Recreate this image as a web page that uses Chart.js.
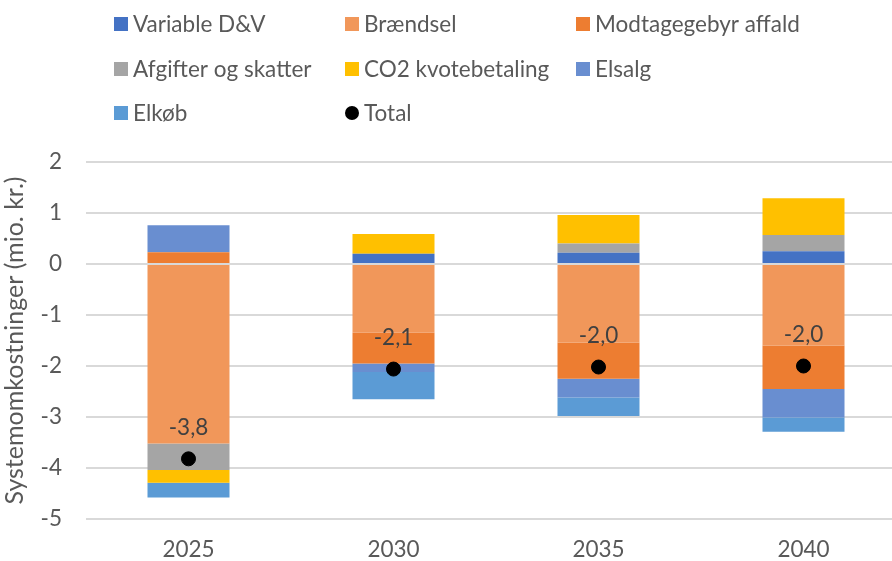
<!DOCTYPE html>
<html>
<head>
<meta charset="utf-8">
<script src="https://cdn.jsdelivr.net/npm/chart.js@4/dist/chart.umd.min.js"></script>
<style>
  html, body { margin: 0; padding: 0; background: #fff; overflow: hidden; }
  #chart { display: block; }
</style>
</head>
<body>
<canvas id="chart" width="914" height="561"></canvas>
<script>
const years = ['2025', '2030', '2035', '2040'];

const variableDV = [0, 0.20, 0.22, 0.25];
const braendsel = [-3.52, -1.35, -1.54, -1.60];
const modtagegebyr = [0.23, -0.60, -0.71, -0.85];
const afgifter = [-0.52, 0, 0.18, 0.32];
const co2 = [-0.25, 0.39, 0.56, 0.72];
const elsalg = [0.53, -0.17, -0.37, -0.56];
const elkob = [-0.29, -0.53, -0.36, -0.28];
const total = [-3.82, -2.06, -2.02, -2.00];

const yTicks = [2, 1, 0, -1, -2, -3, -4, -5];

const FONT = 'Lato, "Open Sans", sans-serif';
const TEXT = '#595959';
const SIZE = 22.5;

// legend laid out like the Excel grid (3 columns)
const legendPlugin = {
  id: 'gridLegend',
  afterDraw(chart) {
    const ctx = chart.ctx;
    const cols = [114, 345, 576];
    const rows = [24, 69, 113];
    ctx.save();
    ctx.font = SIZE + 'px ' + FONT;
    ctx.textBaseline = 'middle';
    ctx.textAlign = 'left';
    chart.data.datasets.forEach((ds, i) => {
      const x = cols[i % 3];
      const y = rows[Math.floor(i / 3)];
      ctx.fillStyle = ds.legendColor || ds.backgroundColor;
      if (ds.type === 'line') {
        ctx.beginPath();
        ctx.arc(x + 7, y, 7, 0, Math.PI * 2);
        ctx.fill();
      } else {
        ctx.fillRect(x, y - 7, 14, 14);
      }
      ctx.fillStyle = TEXT;
      ctx.fillText(ds.label, x + 19, y + 1);
    });
    ctx.restore();
  }
};

// value labels above the Total markers
const totalLabels = {
  id: 'totalLabels',
  afterDatasetsDraw(chart) {
    const ctx = chart.ctx;
    const idx = chart.data.datasets.findIndex(d => d.type === 'line');
    const meta = chart.getDatasetMeta(idx);
    ctx.save();
    ctx.font = SIZE + 'px ' + FONT;
    ctx.fillStyle = '#404040';
    ctx.textAlign = 'center';
    ctx.textBaseline = 'middle';
    meta.data.forEach((pt, i) => {
      const v = chart.data.datasets[idx].data[i];
      ctx.fillText(v.toFixed(1).replace('.', ','), pt.x, pt.y - 31);
    });
    ctx.restore();
  }
};

const bar = (label, data, color) => ({
  type: 'bar', label, data, backgroundColor: color, stack: 'cost', order: 1,
  barPercentage: 0.4, categoryPercentage: 1
});

new Chart(document.getElementById('chart'), {
  data: {
    labels: years,
    datasets: [
      bar('Variable D&V', variableDV, '#4472C4'),
      bar('Brændsel', braendsel, '#F1975A'),
      bar('Modtagegebyr affald', modtagegebyr, '#ED7D31'),
      bar('Afgifter og skatter', afgifter, '#A5A5A5'),
      bar('CO2 kvotebetaling', co2, '#FFC000'),
      bar('Elsalg', elsalg, '#698ED0'),
      bar('Elkøb', elkob, '#5B9BD5'),
      {
        type: 'line', label: 'Total', data: total, stack: 'total', order: 0,
        showLine: false, pointRadius: 7, pointHoverRadius: 7,
        backgroundColor: '#000', borderColor: '#000', legendColor: '#000'
      }
    ]
  },
  options: {
    responsive: false,
    animation: false,
    layout: { padding: { top: 162, right: 1, left: 0, bottom: 0 } },
    plugins: { legend: { display: false }, tooltip: { enabled: false } },
    scales: {
      x: {
        stacked: true,
        grid: { display: false, drawTicks: false },
        border: { display: false },
        ticks: { color: TEXT, font: { family: FONT, size: SIZE }, padding: 17 },
        afterFit(s) { s.height = 42; }
      },
      y: {
        stacked: true,
        min: -5, max: 2,
        afterBuildTicks(s) { s.ticks = yTicks.map(v => ({ value: v })); },
        grid: { color: '#D9D9D9', lineWidth: 2, drawTicks: false },
        border: { display: false },
        ticks: { color: TEXT, font: { family: FONT, size: SIZE }, padding: 24 },
        title: {
          display: true, text: 'Systemomkostninger (mio. kr.)',
          color: TEXT, font: { family: FONT, size: 25 }, padding: 0
        },
        afterFit(s) { s.width = 86; }
      }
    }
  },
  plugins: [legendPlugin, totalLabels]
});
</script>
</body>
</html>
